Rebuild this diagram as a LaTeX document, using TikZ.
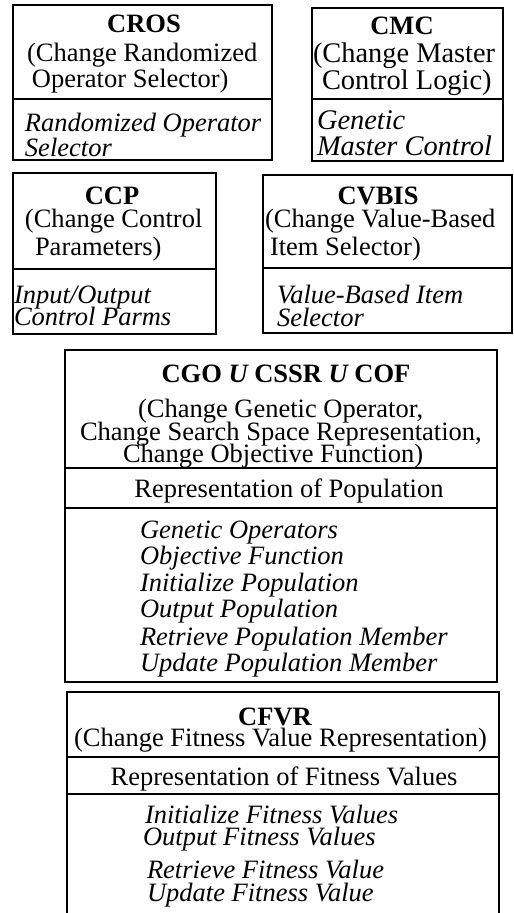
\documentclass[tikz,border=0pt]{standalone}
\usepackage{fontspec}
\setmainfont{Liberation Serif}
\begin{document}
\begin{tikzpicture}[x=0.5pt,y=-0.5pt,
  frame/.style={draw=black, line width=1pt},
  txt/.style={inner sep=0pt, outer sep=0pt, font=\fontsize{13.25pt}{14pt}\selectfont},
  ttl/.style={txt, font=\fontsize{13.25pt}{14pt}\selectfont\bfseries, anchor=base},
  ctr/.style={txt, anchor=base},
  ln/.style={txt, anchor=base west},
  op/.style={txt, font=\fontsize{13.25pt}{14pt}\selectfont\itshape, anchor=base west},
  wide/.style={font=\fontsize{14.2pt}{15pt}\selectfont},
  wideop/.style={font=\fontsize{14.2pt}{15pt}\selectfont\itshape},
]
\useasboundingbox (0,0) rectangle (513,913);

% --- CROS ---
\draw[frame] (13,5) rectangle (272,160);
\draw[frame] (13,99) -- (272,99);
\node[ttl] (crosT) at (144,33) {CROS};
\node[ln] (crosS1) at (27,62) {(Change Randomized};
\node[ln] (crosS2) at (32,88) {Operator Selector)};
\node[op] (crosB1) at (25,132) {Randomized Operator};
\node[op] (crosB2) at (25,157) {Selector};

% --- CMC ---
\draw[frame] (312,8) rectangle (503,161);
\draw[frame] (312,99) -- (503,99);
\node[ttl] (cmcT) at (402,35) {CMC};
\node[ln, wide] (cmcS1) at (313,63) {(Change Master};
\node[ln, wide] (cmcS2) at (322,90) {Control Logic)};
\node[op, wideop] (cmcB1) at (317,130) {Genetic};
\node[op, wideop] (cmcB2) at (317,156) {Master Control};

% --- CCP ---
\draw[frame] (13,173) rectangle (216,334);
\draw[frame] (13,269) -- (216,269);
\node[ttl] (ccpT) at (112,205) {CCP};
\node[ln] (ccpS1) at (25,228) {(Change Control};
\node[ln] (ccpS2) at (35,256) {Parameters)};
\node[op] (ccpB1) at (14,304) {Input/Output};
\node[op] (ccpB2) at (14,326) {Control Parms};

% --- CVBIS ---
\draw[frame] (263,175) rectangle (512,333);
\draw[frame] (263,268) -- (512,268);
\node[ttl] (cvbT) at (378,205) {CVBIS};
\node[ln] (cvbS1) at (265,228) {(Change Value-Based};
\node[ln] (cvbS2) at (270,256) {Item Selector)};
\node[op] (cvbB1) at (277,304) {Value-Based Item};
\node[op] (cvbB2) at (277,327) {Selector};

% --- CGO U CSSR U COF ---
\draw[frame] (65,350) rectangle (497,682);
\draw[frame] (65,468) -- (497,468);
\draw[frame] (65,508) -- (497,508);
\node[ttl] (cgoT) at (286,383) {CGO {\itshape U} CSSR {\itshape U} COF};
\node[ln] (cgoS1) at (138,417) {(Change Genetic Operator,};
\node[ln] (cgoS2) at (80,440) {Change Search Space Representation,};
\node[ln] (cgoS3) at (123,462) {Change Objective Function)};
\node[ctr] (cgoR) at (289,497) {Representation of Population};
\node[op] (cgoB1) at (140,538) {Genetic Operators};
\node[op] (cgoB2) at (140,564) {Objective Function};
\node[op] (cgoB3) at (140,591) {Initialize Population};
\node[op] (cgoB4) at (140,617) {Output Population};
\node[op] (cgoB5) at (140,645) {Retrieve Population Member};
\node[op] (cgoB6) at (140,671) {Update Population Member};

% --- CFVR (open at the bottom) ---
\draw[frame] (67,913) -- (67,692) -- (499,692) -- (499,913);
\draw[frame] (67,757) -- (499,757);
\draw[frame] (67,794) -- (499,794);
\node[ttl] (cfvT) at (275,725) {CFVR};
\node[ln] (cfvS) at (74,746) {(Change Fitness Value Representation)};
\node[ctr] (cfvR) at (284,785) {Representation of Fitness Values};
\node[op] (cfvB1) at (145,823) {Initialize Fitness Values};
\node[op] (cfvB2) at (143,845) {Output Fitness Values};
\node[op] (cfvB3) at (147,878) {Retrieve Fitness Value};
\node[op] (cfvB4) at (147,901) {Update Fitness Value};
\end{tikzpicture}
\end{document}
